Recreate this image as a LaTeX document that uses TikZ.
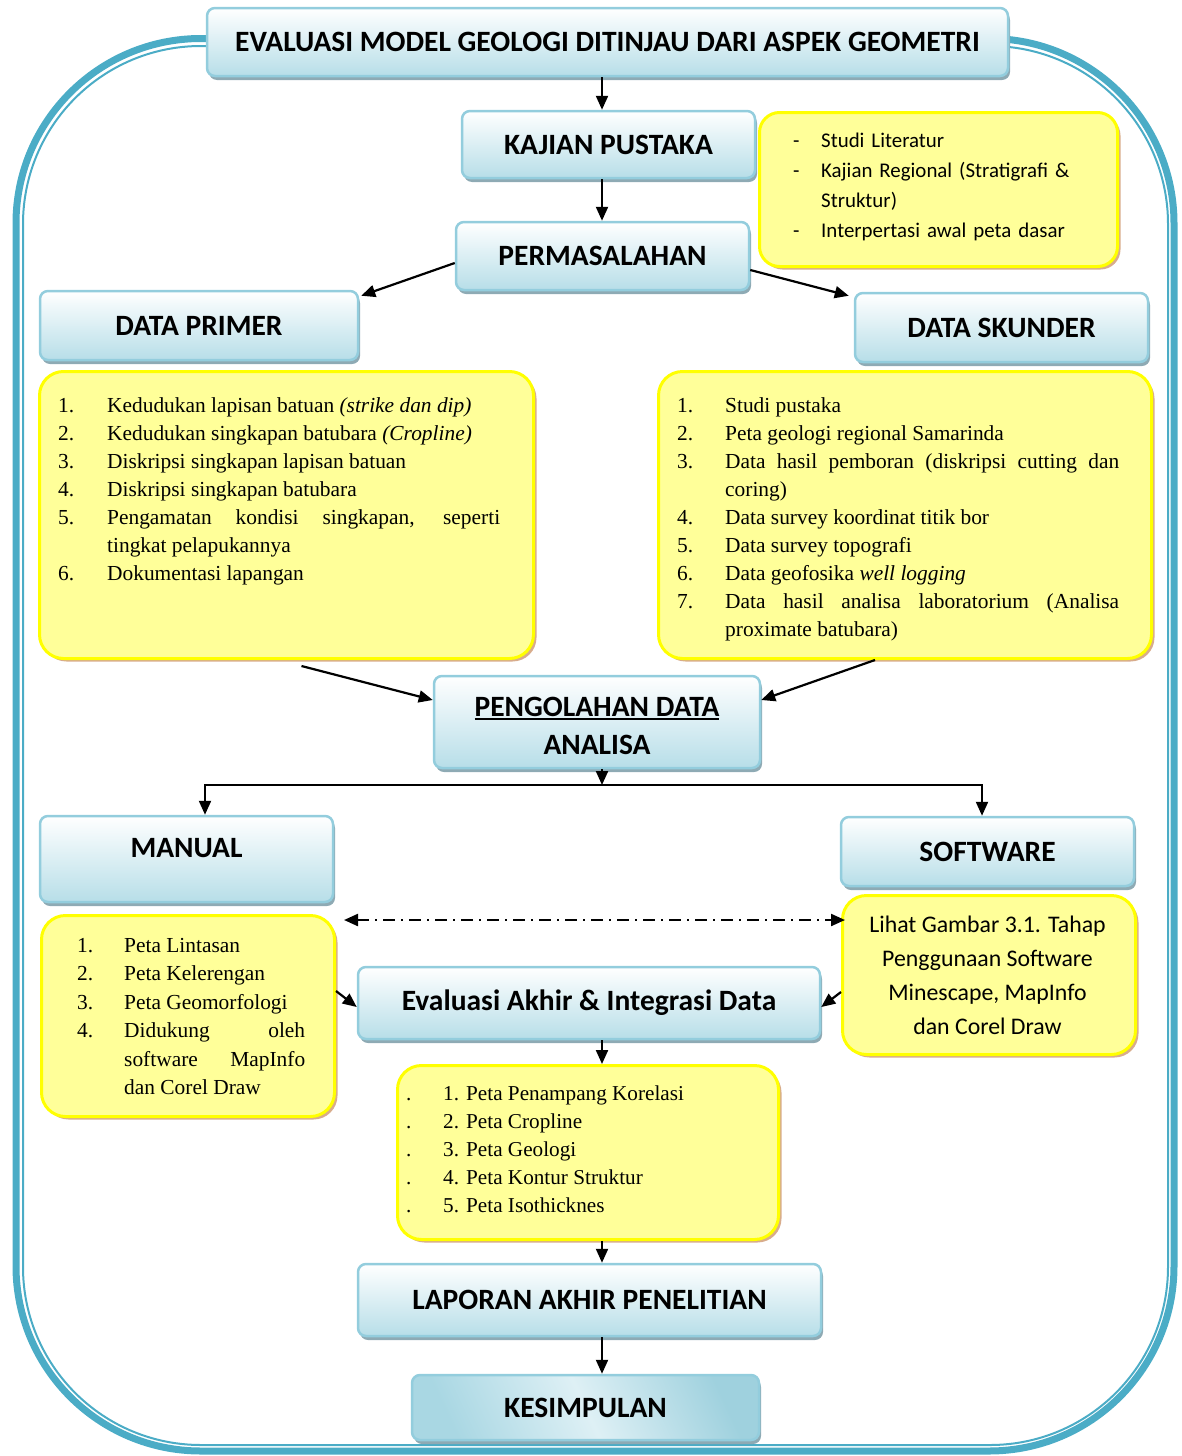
\documentclass[tikz,border=0pt]{standalone}
\usepackage{fontspec}
\setmainfont{Liberation Serif}
\newfontfamily\calibri{Carlito}
\usetikzlibrary{arrows.meta,shadows,calc}
\definecolor{frameblue}{HTML}{4BACC6}
\definecolor{bord}{HTML}{93CDDD}
\definecolor{boxbot}{HTML}{B7DEE8}
\definecolor{boxshade}{HTML}{8EAAB4}
\definecolor{yel}{HTML}{FFFF99}
\definecolor{yelbord}{HTML}{FFFF00}
\definecolor{yelshade}{HTML}{D8AC8C}
\definecolor{kesA}{HTML}{A9D7E3}
\definecolor{kesB}{HTML}{DEF0F5}
\definecolor{kesC}{HTML}{9FD1DE}
\newcommand{\itm}[3][49pt]{\hangindent=#1\hangafter=1\noindent\makebox[#1][l]{#2}#3\par}
\newcommand{\uln}[1]{\setbox0\hbox{#1}\rlap{\rule[-4pt]{\wd0}{2.2pt}}\box0}
\begin{document}
\begin{tikzpicture}[x=1pt,y=-1pt,
  bbox/.style={rectangle,rounded corners=8pt,draw=bord,line width=2.5pt,top color=white,bottom color=boxbot,
    drop shadow={shadow xshift=2pt,shadow yshift=-4pt,fill=boxshade,opacity=1},
    font=\calibri\bfseries\fontsize{29.5}{38}\selectfont,inner sep=0pt,align=center},
  ybox/.style={rectangle,rounded corners=24pt,draw=yelbord,line width=3pt,fill=yel,
    drop shadow={shadow xshift=3pt,shadow yshift=-3pt,fill=yelshade,opacity=1},anchor=north west,inner sep=0pt},
  lst/.style={anchor=base west,inner sep=0pt,align=justify,font=\fontsize{21.4}{28}\selectfont},
  arr/.style={-{Triangle[length=14pt,width=12pt]},line width=2.2pt}]
\useasboundingbox (0,0) rectangle (1181,1456);
\draw[frameblue,line width=7pt,rounded corners=185pt] (16,38.5) rectangle (1174,1451);
\draw[frameblue,line width=2pt,rounded corners=178pt] (23,46) rectangle (1168,1445);

\node[bbox,minimum width=801pt,minimum height=68pt] (title) at (607.5,42) {EVALUASI MODEL GEOLOGI DITINJAU DARI ASPEK GEOMETRI};
\node[bbox,minimum width=293pt,minimum height=67pt] (kajian) at (608.5,144.5) {KAJIAN PUSTAKA};
\node[bbox,minimum width=293pt,minimum height=68pt] (perm) at (602.5,256) {PERMASALAHAN};
\node[bbox,minimum width=318pt,minimum height=69pt] (prim) at (199,325.5) {DATA PRIMER};
\node[bbox,minimum width=293pt,minimum height=69pt] (skun) at (1001.5,327.5) {DATA SKUNDER};
\node[bbox,minimum width=326pt,minimum height=92pt] (peng) at (597,722) {\rule{0pt}{27pt}\uln{PENGOLAHAN DATA}\\ANALISA};
\node[bbox,minimum width=293pt,minimum height=86pt,text depth=22pt] (manual) at (186.5,859) {MANUAL};
\node[bbox,minimum width=293pt,minimum height=69pt] (soft) at (987.5,851.5) {SOFTWARE};
\node[bbox,minimum width=462pt,minimum height=72pt] (eval) at (589,1003) {Evaluasi Akhir \& Integrasi Data};
\node[bbox,minimum width=463pt,minimum height=72pt] (lap) at (589.5,1300) {LAPORAN AKHIR PENELITIAN};
\node[bbox,minimum width=347pt,minimum height=65pt,left color=kesA,right color=kesC,middle color=kesB,shading angle=115] (kes) at (585.5,1407.5) {KESIMPULAN};

\node[ybox,rounded corners=20pt,minimum width=358pt,minimum height=154pt] (ykaj) at (758,111) {};
\node[ybox,minimum width=494pt,minimum height=287pt] (yprim) at (38,370) {};
\node[ybox,minimum width=493pt,minimum height=287pt] (yskun) at (657,370) {};
\node[ybox,minimum width=293pt,minimum height=201pt] (yman) at (40,914) {};
\node[ybox,minimum width=293pt,minimum height=159pt] (ysoft) at (841,894) {};
\node[ybox,minimum width=381pt,minimum height=174pt] (yout) at (396,1064) {};

\node[anchor=base west,inner sep=0pt,text width=285pt,align=left,font=\calibri\fontsize{20.9}{30}\selectfont] (tkaj) at (793,147)
  {\itm[28pt]{-}{Studi Literatur}\itm[28pt]{-}{Kajian Regional (Stratigrafi \&\newline Struktur)}\itm[28pt]{-}{Interpertasi awal peta dasar}};
\node[lst,text width=442pt] (tprim) at (58,412)
  {\itm{1.}{Kedudukan lapisan batuan \textit{(strike dan dip)}}
   \itm{2.}{Kedudukan singkapan batubara \textit{(Cropline)}}
   \itm{3.}{Diskripsi singkapan lapisan batuan}
   \itm{4.}{Diskripsi singkapan batubara}
   \itm{5.}{Pengamatan kondisi singkapan, seperti\linebreak tingkat pelapukannya}
   \itm{6.}{Dokumentasi lapangan}};
\node[lst,text width=442pt] (tskun) at (677,412)
  {\itm[48pt]{1.}{Studi pustaka}
   \itm[48pt]{2.}{Peta geologi regional Samarinda}
   \itm[48pt]{3.}{Data hasil pemboran (diskripsi cutting dan\linebreak coring)}
   \itm[48pt]{4.}{Data survey koordinat titik bor}
   \itm[48pt]{5.}{Data survey topografi}
   \itm[48pt]{6.}{Data geofosika \textit{well logging}}
   \itm[48pt]{7.}{Data hasil analisa laboratorium (Analisa\linebreak proximate batubara)}};
\node[lst,text width=228pt,font=\fontsize{21.4}{28.5}\selectfont] (tman) at (77,952)
  {\itm[47pt]{1.}{Peta Lintasan}
   \itm[47pt]{2.}{Peta Kelerengan}
   \itm[47pt]{3.}{Peta Geomorfologi}
   \itm[47pt]{4.}{Didukung oleh\linebreak software MapInfo\linebreak dan Corel Draw}};
\node[anchor=base,align=center,inner sep=0pt,font=\calibri\fontsize{23.8}{34}\selectfont] (tsoft) at (987.5,1034)
  {Lihat Gambar 3.1. Tahap\\Penggunaan Software\\Minescape, MapInfo\\dan Corel Draw};
\node[anchor=base west,align=left,inner sep=0pt,font=\fontsize{21.2}{28}\selectfont] (tout) at (406,1212)
  {\makebox[37pt][l]{.}1. Peta Penampang Korelasi\\\makebox[37pt][l]{.}2. Peta Cropline\\\makebox[37pt][l]{.}3. Peta Geologi\\\makebox[37pt][l]{.}4. Peta Kontur Struktur\\\makebox[37pt][l]{.}5. Peta Isothicknes};

\coordinate (axis) at (602,0);
\coordinate (split) at (602,785);
\draw[arr] (title.south -| axis) -- (kajian.north -| axis);
\draw[arr] (kajian.south -| axis) -- (perm.north -| axis);
\draw[arr] ($(perm.west)+(0,7)$) -- ($(prim.north east)+(2,6)$);
\draw[arr] ($(perm.east)+(0,14)$) -- ($(skun.north west)+(-5,4)$);
\draw[arr] ($(yprim.south)+(15,6)$) -- ($(peng.west)+(0,-22)$);
\draw[arr] ($(yskun.south)+(-30,0)$) -- ($(peng.east)+(0,-22)$);
\draw[arr] (peng.south -| axis) -- (split);
\draw[arr] (split) -| ($(manual.north)+(18.5,0)$);
\draw[arr] (split) -| ($(soft.north)+(-5.5,0)$);
\draw[arr,{Triangle[length=14pt,width=12pt]}-{Triangle[length=14pt,width=12pt]},dash pattern=on 12pt off 6pt on 2pt off 6pt] ($(yman.north east)+(8,6)$) -- ($(ysoft.north west)+(4,26)$);
\draw[arr] ($(yman.east)+(0,-25)$) -- ($(eval.west)+(0,4)$);
\draw[arr] ($(ysoft.west)+(0,17)$) -- ($(eval.east)+(0,4)$);
\draw[arr] (eval.south -| axis) -- (yout.north -| axis);
\draw[arr] (yout.south -| axis) -- (lap.north -| axis);
\draw[arr] (lap.south -| axis) -- (kes.north -| axis);
\end{tikzpicture}
\end{document}
